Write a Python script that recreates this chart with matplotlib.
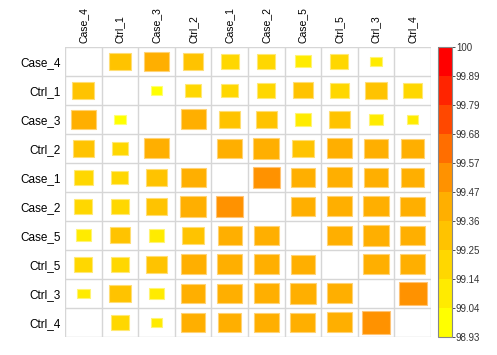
import numpy as np
import matplotlib
matplotlib.use("Agg")
import matplotlib.pyplot as plt
from matplotlib.colors import LinearSegmentedColormap, ListedColormap, BoundaryNorm, to_rgb
from matplotlib.patches import Rectangle
from matplotlib.colorbar import ColorbarBase

plt.rcParams['font.family'] = ['Liberation Sans', 'DejaVu Sans']

labels = ["Case_4", "Ctrl_1", "Case_3", "Ctrl_2", "Case_1",
          "Case_2", "Case_5", "Ctrl_5", "Ctrl_3", "Ctrl_4"]

nan = np.nan
values = [
    [nan,   99.31, 99.40, 99.27, 99.20, 99.19, 99.12, 99.19, 99.05, nan],
    [99.31, nan,   99.03, 99.15, 99.16, 99.20, 99.26, 99.20, 99.30, 99.21],
    [99.40, 99.03, nan,   99.44, 99.30, 99.30, 99.13, 99.29, 99.10, 99.04],
    [99.27, 99.15, 99.44, nan,   99.42, 99.46, 99.30, 99.44, 99.37, 99.37],
    [99.20, 99.16, 99.30, 99.42, nan,   99.51, 99.38, 99.43, 99.41, 99.37],
    [99.19, 99.20, 99.30, 99.46, 99.51, nan,   99.41, 99.45, 99.44, 99.42],
    [99.12, 99.26, 99.13, 99.30, 99.38, 99.41, nan,   99.40, 99.46, 99.42],
    [99.19, 99.20, 99.29, 99.44, 99.43, 99.45, 99.40, nan,   99.45, 99.43],
    [99.05, 99.30, 99.10, 99.37, 99.41, 99.44, 99.46, 99.45, nan,   99.56],
    [nan,   99.21, 99.04, 99.37, 99.37, 99.42, 99.42, 99.43, 99.56, nan],
]

cbar_min, cbar_max = 98.93, 100.0
cbar_labels = ["98.93", "99.04", "99.14", "99.25", "99.36", "99.47",
               "99.57", "99.68", "99.79", "99.89", "100"]

# discrete yellow -> orange -> red palette, 10 bands
ramp = LinearSegmentedColormap.from_list("yor", ["#FFFF00", "#FFA500", "#FF0000"])
cmap = ListedColormap([ramp(t) for t in np.linspace(0, 1, 10)])
bounds = np.linspace(cbar_min, cbar_max, 11)
norm = BoundaryNorm(bounds, cmap.N)

mat = np.array(values)
n = len(labels)

fig = plt.figure(figsize=(4.97, 3.55), dpi=100)
ax = fig.add_axes([0.131, 0.051, 0.736, 0.817])

for i in range(n):
    for j in range(n):
        v = mat[i, j]
        if np.isnan(v):
            continue
        s = np.sqrt((v - cbar_min) / (cbar_max - cbar_min))
        c = np.array(to_rgb(cmap(norm(v))))
        edge = c + (1 - c) * 0.45
        ax.add_patch(Rectangle((j + 0.5 - s / 2, i + 0.5 - s / 2), s, s,
                               facecolor=c, edgecolor=edge, linewidth=0.8))

for k in range(n + 1):
    ax.axvline(k, color="#D6D6D6", lw=1.0, zorder=0)
    ax.axhline(k, color="#D6D6D6", lw=1.0, zorder=0)

ax.set_xlim(0, n)
ax.set_ylim(n, 0)
for sp in ax.spines.values():
    sp.set_visible(False)
ax.set_xticks(np.arange(n) + 0.5)
ax.set_yticks(np.arange(n) + 0.5)
ax.xaxis.tick_top()
ax.set_xticklabels(labels, rotation=90, fontsize=7.5)
ax.set_yticklabels(labels, fontsize=8.5)
ax.tick_params(length=0, pad=3)

cax = fig.add_axes([0.881, 0.051, 0.028, 0.817])
cb = ColorbarBase(cax, cmap=cmap, norm=norm, boundaries=bounds, ticks=bounds)
cb.set_ticklabels(cbar_labels)
cb.outline.set_edgecolor("#888888")
cb.outline.set_linewidth(0.8)
cax.tick_params(labelsize=7, length=2, width=0.6, pad=1, colors="#333333")

fig.savefig("out.png", dpi=100)
